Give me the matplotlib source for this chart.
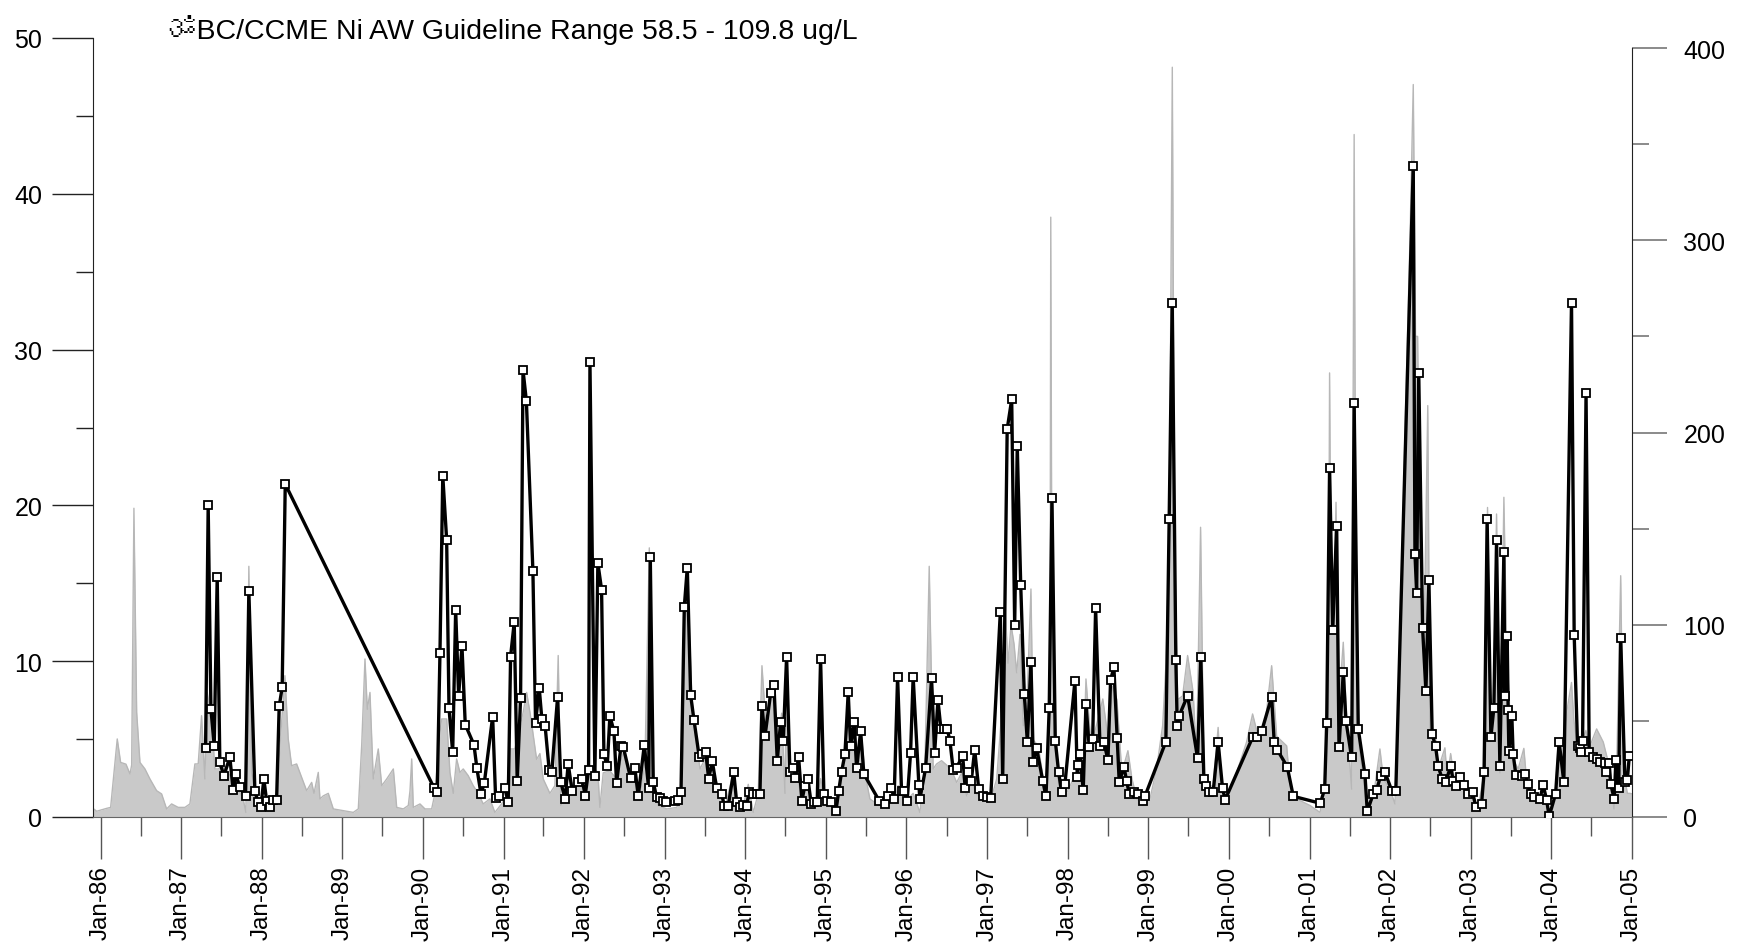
import numpy as np
import pandas as pd
import matplotlib
matplotlib.use("Agg")
import matplotlib.pyplot as plt
import matplotlib.dates as mdates
from matplotlib import font_manager
from matplotlib.ft2font import FT2Font
from datetime import datetime

# ---------------- data ----------------
ni_year = [
    1987.304, 1987.336, 1987.370, 1987.411, 1987.448, 1987.481, 1987.531, 1987.605, 1987.646, 1987.680,
    1987.730, 1987.800, 1987.841, 1987.916, 1987.957, 1987.990, 1988.027, 1988.061, 1988.102, 1988.143,
    1988.185, 1988.217, 1988.254, 1988.292,
    1990.140, 1990.177, 1990.211, 1990.246, 1990.294, 1990.323, 1990.369, 1990.406, 1990.443, 1990.484,
    1990.525, 1990.633, 1990.670, 1990.720, 1990.761, 1990.865, 1990.902, 1990.943, 1991.017, 1991.058,
    1991.088, 1991.133, 1991.170, 1991.212, 1991.242, 1991.284, 1991.365, 1991.398, 1991.443, 1991.476,
    1991.517, 1991.567, 1991.600, 1991.671, 1991.712, 1991.765, 1991.803, 1991.852, 1991.919, 1991.976,
    1992.014, 1992.056, 1992.073, 1992.134, 1992.171, 1992.217, 1992.246, 1992.287, 1992.320, 1992.370,
    1992.403, 1992.457, 1992.485, 1992.577, 1992.630, 1992.671, 1992.746, 1992.800, 1992.820, 1992.857,
    1992.899, 1992.940, 1992.981, 1993.015, 1993.127, 1993.167, 1993.201, 1993.242, 1993.279, 1993.321,
    1993.362, 1993.428, 1993.465, 1993.507, 1993.545, 1993.589, 1993.644, 1993.706, 1993.738, 1993.788,
    1993.855, 1993.892, 1993.933, 1993.974, 1994.016, 1994.048, 1994.098, 1994.140, 1994.181, 1994.206,
    1994.243, 1994.314, 1994.355, 1994.396, 1994.438, 1994.470, 1994.512, 1994.553, 1994.587, 1994.619,
    1994.661, 1994.702, 1994.739, 1994.777, 1994.818, 1994.851, 1994.892, 1994.934, 1994.975, 1995.016,
    1995.058, 1995.124, 1995.158, 1995.195, 1995.236, 1995.277, 1995.306, 1995.351, 1995.381, 1995.431,
    1995.471, 1995.661, 1995.732, 1995.766, 1995.803, 1995.847, 1995.890, 1995.939, 1995.964, 1996.009,
    1996.051, 1996.083, 1996.154, 1996.166, 1996.237, 1996.311, 1996.349, 1996.390, 1996.427, 1996.464,
    1996.505, 1996.538, 1996.579, 1996.621, 1996.696, 1996.728, 1996.765, 1996.803, 1996.845, 1996.895,
    1996.952, 1996.994, 1997.043, 1997.163, 1997.192, 1997.248, 1997.304, 1997.341, 1997.373, 1997.416,
    1997.460, 1997.498, 1997.543, 1997.572, 1997.614, 1997.689, 1997.730, 1997.770, 1997.804, 1997.845,
    1997.887, 1997.924, 1997.965, 1998.089, 1998.118, 1998.130, 1998.151, 1998.192, 1998.226, 1998.267,
    1998.309, 1998.346, 1998.400, 1998.449, 1998.499, 1998.532, 1998.573, 1998.614, 1998.639, 1998.697,
    1998.731, 1998.763, 1998.820, 1998.868, 1998.937, 1998.958,
    1999.218, 1999.259, 1999.297, 1999.342, 1999.359, 1999.383, 1999.488, 1999.612, 1999.652, 1999.690,
    1999.714, 1999.756, 1999.805, 1999.867, 1999.922, 1999.954, 2000.294, 2000.344, 2000.406, 2000.530,
    2000.562, 2000.599, 2000.723, 2000.798, 2001.133, 2001.187, 2001.212, 2001.248, 2001.287, 2001.336,
    2001.365, 2001.418, 2001.452, 2001.522, 2001.553, 2001.604, 2001.687, 2001.716, 2001.790, 2001.832,
    2001.882, 2001.935, 2002.020, 2002.070, 2002.287, 2002.308, 2002.329, 2002.355, 2002.403, 2002.444,
    2002.481, 2002.522, 2002.564, 2002.597, 2002.646, 2002.692, 2002.751, 2002.783, 2002.816, 2002.866,
    2002.916, 2002.969, 2003.023, 2003.065, 2003.135, 2003.167, 2003.204, 2003.251, 2003.288, 2003.321,
    2003.362, 2003.412, 2003.424, 2003.453, 2003.465, 2003.474, 2003.511, 2003.527, 2003.561, 2003.632,
    2003.672, 2003.706, 2003.743, 2003.784, 2003.859, 2003.900, 2003.942, 2003.974, 2004.054, 2004.098,
    2004.156, 2004.251, 2004.284, 2004.326, 2004.355, 2004.364, 2004.388, 2004.431, 2004.470, 2004.512,
    2004.562, 2004.603, 2004.665, 2004.677, 2004.718, 2004.736, 2004.780, 2004.801, 2004.835, 2004.860,
    2004.913, 2004.942, 2004.967,
]
ni_value = [
    4.45, 20.0, 6.93, 4.58, 15.4, 3.5, 2.65, 3.83, 1.73, 2.74,
    1.9, 1.33, 14.5, 1.65, 0.94, 0.62, 2.44, 1.05, 0.62, 1.09,
    1.11, 7.1, 8.32, 21.37,
    1.84, 1.62, 10.5, 21.9, 17.8, 7.0, 4.15, 13.3, 7.75, 11.0,
    5.93, 4.64, 3.12, 1.48, 2.16, 6.44, 1.22, 1.33, 1.84, 0.94,
    10.3, 12.5, 2.33, 7.62, 28.7, 26.7, 15.8, 6.03, 8.3, 6.29,
    5.82, 3.02, 2.91, 7.68, 2.23, 1.16, 3.4, 1.69, 2.23, 2.44,
    1.37, 3.02, 29.2, 2.65, 16.3, 14.6, 4.02, 3.25, 6.5, 5.5,
    2.18, 4.53, 4.51, 2.48, 3.12, 1.33, 4.62, 1.84, 16.7, 2.23,
    1.26, 1.2, 1.05, 0.94, 1.05, 1.09, 1.62, 13.5, 16.0, 7.81,
    6.23, 3.83, 4.04, 4.19, 2.44, 3.59, 1.84, 1.48, 0.73, 0.73,
    2.91, 0.94, 0.62, 0.77, 0.73, 1.62, 1.48, 1.48, 1.48, 7.1,
    5.18, 7.94, 8.49, 3.62, 6.12, 4.86, 10.3, 2.87, 3.16, 2.48,
    3.83, 1.05, 2.01, 2.44, 0.83, 0.94, 0.98, 10.14, 1.48, 1.05,
    0.94, 0.37, 1.65, 2.91, 4.02, 8.0, 4.58, 6.12, 3.12, 5.5,
    2.76, 1.05, 0.83, 1.37, 1.84, 1.16, 9.0, 1.69, 1.69, 1.05,
    4.11, 9.0, 2.05, 1.16, 3.12, 8.9, 4.11, 7.51, 5.65, 5.65,
    5.65, 4.9, 3.02, 3.16, 3.94, 1.84, 2.87, 2.33, 4.32, 1.8,
    1.33, 1.26, 1.2, 13.18, 2.44, 24.9, 26.8, 12.3, 23.8, 14.9,
    7.9, 4.83, 9.93, 3.55, 4.41, 2.33, 1.33, 7.02, 20.5, 4.9,
    2.87, 1.58, 2.12, 8.73, 2.55, 3.34, 4.04, 1.73, 7.25, 4.47,
    5.0, 13.4, 4.58, 4.79, 3.66, 8.81, 9.6, 5.05, 2.23, 3.23,
    2.33, 1.48, 1.58, 1.48, 1.05, 1.33,
    4.83, 19.1, 33.0, 10.1, 5.86, 6.5, 7.79, 3.77, 10.3, 2.44,
    2.01, 1.62, 1.58, 4.79, 1.84, 1.11, 5.11, 5.15, 5.5, 7.7,
    4.79, 4.32, 3.23, 1.33, 0.88, 1.8, 6.01, 22.4, 12.0, 18.7,
    4.47, 9.3, 6.14, 3.83, 26.6, 5.65, 2.74, 0.37, 1.48, 1.73,
    2.65, 2.87, 1.7, 1.65, 41.8, 16.9, 14.4, 28.5, 12.1, 8.07,
    15.2, 5.33, 4.53, 3.25, 2.44, 2.27, 3.25, 2.33, 1.97, 2.55,
    2.05, 1.48, 1.58, 0.66, 0.83, 2.91, 19.1, 5.15, 7.02, 17.8,
    3.29, 17.0, 7.79, 11.6, 6.87, 4.26, 6.46, 4.04, 2.7, 2.65,
    2.76, 2.12, 1.48, 1.26, 1.16, 2.05, 1.11, 0.04, 1.48, 4.83,
    2.23, 33.0, 11.7, 4.58, 4.41, 4.19, 4.86, 27.2, 4.19, 3.87,
    3.72, 3.55, 3.44, 2.87, 3.44, 2.12, 1.16, 3.68, 1.84, 11.5,
    2.23, 2.37, 3.94,
]

flow_year = [
    1985.890, 1985.952, 1986.076, 1986.125, 1986.166, 1986.207, 1986.249, 1986.315, 1986.365, 1986.386,
    1986.414, 1986.448, 1986.489, 1986.551, 1986.613, 1986.696, 1986.758, 1986.820, 1986.882, 1986.964,
    1987.047, 1987.109, 1987.171, 1987.212, 1987.254, 1987.295, 1987.324, 1987.378, 1987.419, 1987.460,
    1987.522, 1987.605, 1987.689, 1987.770, 1987.804, 1987.841, 1987.875, 1987.937, 1987.999, 1988.102,
    1988.185, 1988.235, 1988.288, 1988.329, 1988.371, 1988.433, 1988.495, 1988.557, 1988.619, 1988.648,
    1988.701, 1988.722, 1988.763, 1988.825, 1988.887, 1989.011, 1989.135, 1989.197, 1989.239, 1989.280,
    1989.309, 1989.342, 1989.383, 1989.445, 1989.488, 1989.550, 1989.632, 1989.674, 1989.756, 1989.818,
    1989.839, 1989.860, 1989.880, 1989.963, 1990.025, 1990.108, 1990.149, 1990.211, 1990.232, 1990.294,
    1990.335, 1990.376, 1990.418, 1990.459, 1990.500, 1990.562, 1990.624, 1990.686, 1990.748, 1990.831,
    1990.893, 1990.976, 1991.038, 1991.079, 1991.141, 1991.244, 1991.287, 1991.328, 1991.361, 1991.411,
    1991.452, 1991.493, 1991.576, 1991.638, 1991.679, 1991.712, 1991.783, 1991.865, 1991.948, 1992.010,
    1992.072, 1992.134, 1992.171, 1992.196, 1992.237, 1992.320, 1992.403, 1992.485, 1992.547, 1992.609,
    1992.692, 1992.754, 1992.808, 1992.850, 1992.919, 1993.024, 1993.148, 1993.210, 1993.251, 1993.279,
    1993.334, 1993.375, 1993.437, 1993.520, 1993.561, 1993.602, 1993.664, 1993.747, 1993.850, 1993.892,
    1993.974, 1994.036, 1994.098, 1994.160, 1994.206, 1994.264, 1994.305, 1994.346, 1994.408, 1994.451,
    1994.492, 1994.512, 1994.553, 1994.636, 1994.698, 1994.760, 1994.822, 1994.885, 1994.934, 1994.988,
    1995.071, 1995.133, 1995.174, 1995.215, 1995.265, 1995.298, 1995.360, 1995.401, 1995.443, 1995.484,
    1995.546, 1995.608, 1995.670, 1995.753, 1995.856, 1995.897, 1995.959, 1996.021, 1996.083, 1996.166,
    1996.228, 1996.282, 1996.331, 1996.373, 1996.435, 1996.498, 1996.560, 1996.622, 1996.684, 1996.746,
    1996.808, 1996.870, 1996.952, 1997.035, 1997.118, 1997.180, 1997.221, 1997.258, 1997.296, 1997.333,
    1997.366, 1997.407, 1997.448, 1997.494, 1997.543, 1997.572, 1997.634, 1997.696, 1997.738, 1997.779,
    1997.789, 1997.804, 1997.845, 1997.903, 1997.965, 1998.027, 1998.089, 1998.151, 1998.192, 1998.226,
    1998.290, 1998.364, 1998.435, 1998.507, 1998.556, 1998.610, 1998.672, 1998.747, 1998.797, 1998.859,
    1998.937, 1999.020, 1999.103, 1999.178, 1999.220, 1999.262, 1999.298, 1999.324, 1999.364, 1999.426,
    1999.488, 1999.557, 1999.599, 1999.649, 1999.690, 1999.743, 1999.805, 1999.867, 1999.909, 1999.971,
    2000.096, 2000.220, 2000.294, 2000.363, 2000.447, 2000.530, 2000.592, 2000.716, 2000.757, 2000.840,
    2001.005, 2001.129, 2001.191, 2001.232, 2001.248, 2001.266, 2001.294, 2001.328, 2001.356, 2001.418,
    2001.460, 2001.522, 2001.553, 2001.576, 2001.615, 2001.657, 2001.716, 2001.790, 2001.873, 2001.915,
    2001.998, 2002.060, 2002.122, 2002.184, 2002.246, 2002.287, 2002.315, 2002.341, 2002.370, 2002.412,
    2002.432, 2002.467, 2002.488, 2002.494, 2002.556, 2002.597, 2002.680, 2002.709, 2002.751, 2002.804,
    2002.907, 2002.990, 2003.093, 2003.155, 2003.209, 2003.238, 2003.279, 2003.321, 2003.362, 2003.412,
    2003.445, 2003.486, 2003.527, 2003.589, 2003.660, 2003.693, 2003.756, 2003.838, 2003.921, 2003.974,
    2004.045, 2004.086, 2004.149, 2004.191, 2004.251, 2004.281, 2004.314, 2004.392, 2004.429, 2004.454,
    2004.479, 2004.562, 2004.644, 2004.727, 2004.777, 2004.810, 2004.860, 2004.892, 2004.942, 2004.975,
    2005.000,
]
flow_value = [
    5, 3, 4.5, 5, 23, 40.6, 28.4, 27.5, 22.4, 27,
    160.6, 54.5, 28.4, 25, 19.8, 13.7, 12, 4.2, 6.8, 5,
    5, 6.8, 27.6, 27.6, 52.7, 19.8, 64.8, 51, 25, 25,
    26.7, 21.5, 16.3, 9.4, 2.4, 130.4, 23.2, 8.5, 3, 5,
    11, 42.3, 73.5, 40.6, 26.7, 27.6, 20.6, 13.7, 18, 12.3,
    23.2, 9.4, 11, 12.3, 4.2, 3.3, 2.4, 4.2, 37, 82.2,
    56, 64.8, 19.8, 35.4, 16.3, 19.8, 25, 5, 4.2, 6,
    13.7, 30.2, 5, 6.8, 4.2, 4.2, 12.3, 44, 51, 51,
    23.2, 12.3, 30.2, 23.2, 25, 21.5, 16.3, 12.3, 6.8, 9.4,
    2.4, 6.8, 11, 35.4, 35.4, 54.5, 64.8, 54.5, 45, 30,
    33, 19.8, 12.3, 16.3, 84, 6, 11, 18, 16.3, 14,
    23.2, 25, 23, 5, 23, 24, 19.8, 33.6, 25, 20,
    11, 28, 140, 16, 6, 4.2, 5, 11, 110, 129,
    63, 44, 25, 32, 19.8, 22, 16.3, 5, 23, 6,
    6, 17, 2.4, 12.3, 78.7, 42.3, 64.8, 68, 39, 54,
    12.3, 82, 23, 25, 8.5, 19.8, 6.8, 6.8, 20, 6,
    6.8, 2.4, 12.3, 25, 35.4, 32, 46, 23, 42, 23,
    9.4, 7.6, 9.4, 11, 9.4, 16.3, 9.4, 9.4, 12.3, 2.4,
    25, 130.4, 25, 27.6, 29.3, 27, 24, 18, 23, 11,
    18, 12, 9.4, 7.6, 19.8, 54.5, 110, 80, 100, 90,
    75, 95, 47.5, 60, 118.6, 40, 37, 19.8, 11, 54.5,
    312, 100, 37, 11, 11, 16, 22, 25, 25, 71.8,
    37, 49, 61.4, 39, 68, 61, 23, 34.5, 19.8, 9.4,
    6, 9.4, 25, 47.5, 80, 150, 390, 150, 61, 63,
    84, 64.8, 30, 150.7, 23, 16.3, 16, 46.6, 16, 9.4,
    23, 39, 53.6, 42, 47.5, 78.7, 42, 37, 16.3, 9.4,
    6, 2.4, 16.3, 54.5, 231, 120, 97.8, 163.7, 54.5, 90.9,
    50, 14.5, 355, 100, 37, 23, 4.2, 9.4, 35.4, 20,
    14.5, 6.8, 89, 200, 300, 381, 250, 250, 150, 90,
    120, 214, 80, 42, 45.5, 25, 36, 20, 33, 18,
    16.3, 11, 5, 19.8, 161, 42, 50, 157.6, 23, 166.3,
    90, 54.5, 30, 25, 35.7, 19.8, 12.3, 9.4, 9.4, 2.4,
    9, 37, 19.8, 54.5, 70, 50, 40, 40, 45, 40,
    37, 45.8, 39, 25, 4.2, 25, 125.5, 25, 12.3, 12.3,
    12,
]

title_text = "\u0950BC/CCME Ni AW Guideline Range 58.5 - 109.8 ug/L"
year_ticks = list(range(1986, 2006))


def to_dt(y):
    yr = int(np.floor(y))
    start = datetime(yr, 1, 1)
    end = datetime(yr + 1, 1, 1)
    return start + (end - start) * (y - yr)


ni_dates = [to_dt(v) for v in ni_year]
flow_dates = [to_dt(v) for v in flow_year]

# --------------- fonts ----------------
om_family = None
for f in font_manager.fontManager.ttflist:
    try:
        ft = FT2Font(f.fname)
        if ft.get_char_index(0x0950):
            om_family = f.name
            break
    except Exception:
        pass
base_font = "Liberation Sans"
plt.rcParams["font.family"] = [base_font, "DejaVu Sans"]
title_fams = [base_font] + ([om_family] if om_family else []) + ["DejaVu Sans"]

# --------------- figure ----------------
W, H = 1749, 945
fig = plt.figure(figsize=(W / 100, H / 100), dpi=100)
L, R, T, B = 93, 1632, 39, 818
ax = fig.add_axes([L / W, 1 - B / H, (R - L) / W, (B - T) / H])
ax2 = ax.twinx()

# grey area on right axis
ax2.fill_between(flow_dates, flow_value, 0, color="#c9c9c9", lw=0, zorder=1)
ax2.plot(flow_dates, flow_value, color="#b7b7b7", lw=1.0, zorder=2)
ax2.set_ylim(0, 400 * (B - T) / (B - 49))

# black series on left axis
ax.set_zorder(ax2.get_zorder() + 1)
ax.patch.set_visible(False)
ax.plot(ni_dates, ni_value, color="black", lw=2.4, marker="s", ms=5.2,
        mfc="white", mec="black", mew=1.3, zorder=3)
ax.set_ylim(0, 50)
ax.set_xlim(to_dt(1985.906), to_dt(2005.0))

# spines
for s in ["top", "right"]:
    ax.spines[s].set_visible(False)
ax.spines["left"].set_color("#222222")
ax.spines["bottom"].set_color("#666666")
for s in ["top", "left", "bottom"]:
    ax2.spines[s].set_visible(False)
ax2.spines["right"].set_color("#222222")
ax2.spines["right"].set_bounds(0, 400)

# y ticks
ax.set_yticks(np.arange(0, 51, 10))
ax.set_yticks(np.arange(5, 50, 10), minor=True)
ax.tick_params(axis="y", which="major", length=29.5, width=1, color="#222222",
               labelsize=18, pad=7)
ax.tick_params(axis="y", which="minor", length=12, width=1, color="#222222")
ax2.set_yticks(np.arange(0, 401, 100))
ax2.set_yticks(np.arange(50, 400, 100), minor=True)
ax2.tick_params(axis="y", which="major", length=25, width=1.2, color="#777777",
                labelsize=18, pad=12)
ax2.tick_params(axis="y", which="minor", length=12, width=1.2, color="#777777")

# x ticks
ax.set_xticks([datetime(y, 1, 1) for y in year_ticks])
ax.set_xticks([datetime(y, 7, 1) for y in year_ticks[:-1]], minor=True)
ax.xaxis.set_major_formatter(mdates.DateFormatter("%b-%y"))
ax.tick_params(axis="x", which="major", length=30, width=1, color="#555555",
               labelsize=17.5, pad=5, labelrotation=90)
ax.tick_params(axis="x", which="minor", length=14, width=1, color="#555555")

fig.text(168 / W, 1 - 39 / H, title_text, fontsize=20.5, va="baseline",
         ha="left", family=title_fams)

fig.savefig("out.png", dpi=100)
